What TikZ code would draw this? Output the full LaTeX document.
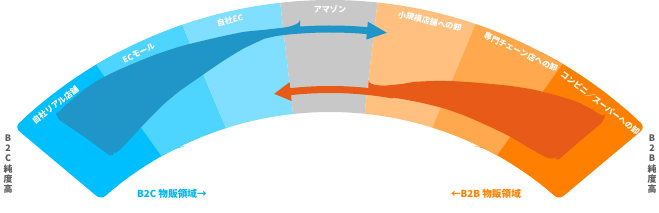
\documentclass[tikz,border=0pt]{standalone}
\usepackage{fontspec}
\newfontfamily\jp{Noto Sans CJK JP}
\definecolor{realshop}{RGB}{0,191,255}
\definecolor{ecmall}{RGB}{77,212,255}
\definecolor{ownec}{RGB}{128,222,255}
\definecolor{amazon}{RGB}{200,200,200}
\definecolor{smallshop}{RGB}{255,192,128}
\definecolor{chain}{RGB}{255,168,77}
\definecolor{conveni}{RGB}{255,128,0}
\definecolor{arrowblue}{RGB}{32,150,200}
\definecolor{arroworange}{RGB}{232,90,24}
\definecolor{btoc}{RGB}{0,180,240}
\definecolor{sidegray}{RGB}{90,90,90}

\begin{document}
\begin{tikzpicture}[scale=0.02,
    endseg/.style={rounded corners=3.5pt},
    seglabel/.style={text=white, inner sep=0pt, font=\jp\bfseries\fontsize{4.6}{5}\selectfont},
    sidelabel/.style={text=sidegray, inner sep=0pt, align=center, font=\jp\bfseries\fontsize{5.1}{5.85}\selectfont},
    arealabel/.style={inner sep=0pt, font=\jp\bfseries\fontsize{5.5}{6}\selectfont},
    blob/.style={rounded corners=4pt}
]
    \useasboundingbox (-330,241) rectangle (329,454);
    % B2C side of the band
    \fill[realshop, endseg] (116:342) -- (117:454) arc[start angle=117, end angle=134, radius=454] -- (132:342) arc[start angle=132, end angle=116, radius=342] -- cycle;
    \fill[ecmall] (121:454) arc[start angle=121, end angle=109, radius=454] -- (107.7:342) arc[start angle=107.7, end angle=119.5, radius=342] -- cycle;
    \fill[ownec] (109:454) arc[start angle=109, end angle=96.3, radius=454] -- (96.2:342) arc[start angle=96.2, end angle=107.7, radius=342] -- cycle;
    % middle
    \fill[amazon] (96.3:454) arc[start angle=96.3, end angle=84, radius=454] -- (84.2:342) arc[start angle=84.2, end angle=96.2, radius=342] -- cycle;
    % B2B side of the band
    \fill[smallshop] (84:454) arc[start angle=84, end angle=71.3, radius=454] -- (72.6:342) arc[start angle=72.6, end angle=84.2, radius=342] -- cycle;
    \fill[conveni, endseg] (64:342) -- (63:454) arc[start angle=63, end angle=46, radius=454] -- (48:342) arc[start angle=48, end angle=64, radius=342] -- cycle;
    \fill[chain] (71.3:454) arc[start angle=71.3, end angle=59.2, radius=454] -- (60.8:342) arc[start angle=60.8, end angle=72.6, radius=342] -- cycle;
    % blue arrow: B2C -> B2B
    \fill[arrowblue, blob] (127.7:400) -- plot[smooth] coordinates {(129.2:434) (126.5:438) (121:439.5) (112:435) (103:431) (98:429) (94:428.5)}
        -- plot[smooth] coordinates {(94:421.5) (98:421) (101:416.5) (104:410) (108:401) (114:390) (120:377.5) (126.2:366)} -- cycle;
    \fill[arrowblue] (100:428.5) arc[start angle=100, end angle=85, radius=428.5] -- (85:434) -- (82.3:425) -- (85:416) -- (85:421.5) arc[start angle=85, end angle=100, radius=421.5] -- cycle;
    % orange arrow: B2B -> B2C
    \fill[arroworange, blob] (51.4:400) -- plot[smooth] coordinates {(50.5:433) (53.5:432) (56.9:426) (62.6:413) (70.5:395) (76:384) (80:375) (84:369)}
        -- plot[smooth] coordinates {(84:361) (77:362.5) (70:364) (62:364.5) (56:365.5) (52.3:368)} -- cycle;
    \fill[arroworange] (80:368) arc[start angle=80, end angle=96.2, radius=368] -- (96.2:374) -- (98.8:364.5) -- (96.2:355) -- (96.2:361) arc[start angle=96.2, end angle=80, radius=361] -- cycle;
    % segment labels
    \node[seglabel, rotate=38.2] (realshoplbl) at (128.2:444) {自社リアル店舗};
    \node[seglabel, rotate=25.5] (ecmalllbl) at (115.5:444) {ECモール};
    \node[seglabel, rotate=13] (ownecllbl) at (103:445) {自社EC};
    \node[seglabel] (amazonlbl) at (90:445) {アマゾン};
    \node[seglabel, rotate=-13] (smallshoplbl) at (77:444) {小規模店舗への卸};
    \node[seglabel, rotate=-25.4] (chainlbl) at (64.6:445) {専門チェーン店への卸};
    \node[seglabel, rotate=-37.6] (convenilbl) at (52.4:443) {コンビニ／スーパーへの卸};
    % side and area labels
    \node[sidelabel] (btoclbl) at (-322,290) {B\\2\\C\\純\\度\\高};
    \node[sidelabel] (btoblbl) at (322,290) {B\\2\\B\\純\\度\\高};
    \node[arealabel, text=btoc] (btocarea) at (-158,260) {B2C 物販領域→};
    \node[arealabel, text=conveni] (btobarea) at (156,260) {←B2B 物販領域};
\end{tikzpicture}
\end{document}
